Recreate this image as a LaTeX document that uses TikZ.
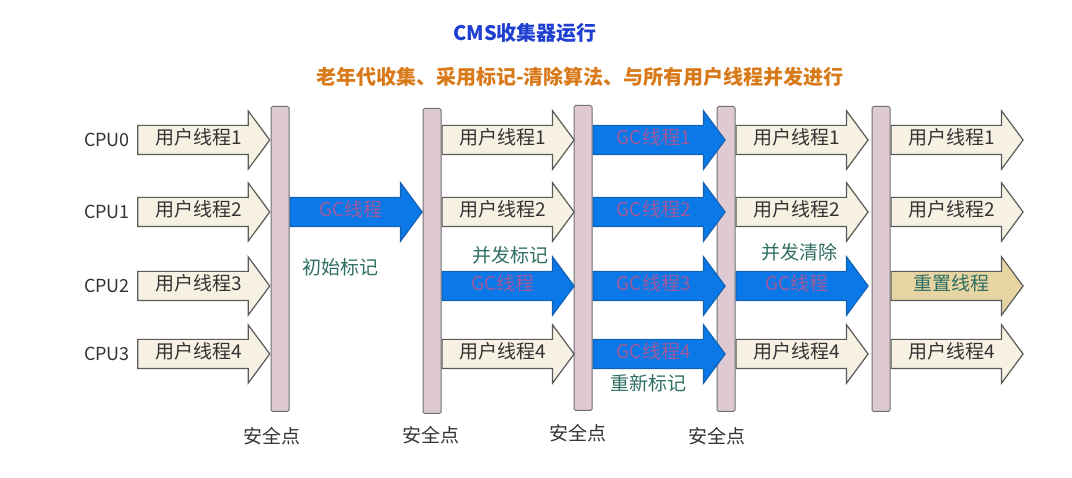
\documentclass[tikz,border=0pt]{standalone}
\usepackage{fontspec}
\setmainfont{Noto Sans CJK SC}
\usetikzlibrary{positioning, shapes.arrows}
\definecolor{userfill}{HTML}{F6F1E2}
\definecolor{arrowdraw}{HTML}{5A5A5A}
\definecolor{barfill}{HTML}{DFC9D3}
\definecolor{bardraw}{HTML}{707070}
\definecolor{gcfill}{HTML}{0A78E6}
\definecolor{gcdraw}{HTML}{1462B4}
\definecolor{gctext}{HTML}{A05A9E}
\definecolor{resetfill}{HTML}{E6D4A2}
\definecolor{labelteal}{HTML}{2F6E62}
\definecolor{textgray}{HTML}{333333}
\definecolor{titleblue}{HTML}{1E3FD0}
\definecolor{suborange}{HTML}{D97A1A}
\tikzset{bar node/.style={rectangle,draw=bardraw,fill=barfill,line width=1pt,rounded corners=1.5pt,minimum width=18pt,minimum height=305pt,inner sep=0pt},
  thread node/.style={single arrow,draw=arrowdraw,line width=1.2pt,minimum height=132pt,minimum width=57pt,single arrow head extend=14.5pt,single arrow tip angle=107,inner xsep=2pt,inner ysep=5pt,text height=14pt,text depth=4pt,font=\fontsize{19}{19}\selectfont},
  user node/.style={thread node,fill=userfill,text=textgray},
  gc node/.style={thread node,fill=gcfill,draw=gcdraw,text=gctext},
  reset node/.style={thread node,fill=resetfill,text=labelteal},
  cpu node/.style={font=\fontsize{18}{18}\selectfont,text=textgray},
  phase node/.style={font=\fontsize{19}{19}\selectfont,text=labelteal},
  safe node/.style={font=\fontsize{19}{19}\selectfont,text=textgray},}
\begin{document}
\begin{tikzpicture}[x=1pt, y=-1pt]
   \useasboundingbox (0,0) rectangle (1072,478);
   % titles
   \node[font=\fontsize{20}{20}\selectfont\bfseries, text=titleblue] (title) at (525,33) {CMS收集器运行};
   \node[font=\fontsize{20}{20}\selectfont\bfseries, text=suborange] (sub) at (580,77) {老年代收集、采用标记-清除算法、与所有用户线程并发进行};
   % cpus
   \node[cpu node] (cpu0) at (107,140) {CPU0};
   \node[cpu node] (cpu1) at (107,212) {CPU1};
   \node[cpu node] (cpu2) at (107,286) {CPU2};
   \node[cpu node] (cpu3) at (107,354) {CPU3};
   % safe points
   \node[bar node] (b1) at (280,259) {};
   \node[bar node] (b2) at (432,261) {};
   \node[bar node] (b3) at (583,258) {};
   \node[bar node] (b4) at (726,259) {};
   \node[bar node] (b5) at (881,259) {};
   \node[safe node] (s1) at (272,436) {安全点};
   \node[safe node] (s2) at (431,435) {安全点};
   \node[safe node] (s3) at (578,433) {安全点};
   \node[safe node] (s4) at (717,436) {安全点};
   % before first safe point
   \node[user node, anchor=tip] (u00) at (b1.west |- cpu0) {用户线程1};
   \node[user node, anchor=tip] (u01) at (b1.west |- cpu1) {用户线程2};
   \node[user node, anchor=tip] (u02) at (b1.west |- cpu2) {用户线程3};
   \node[user node, anchor=tip] (u03) at (b1.west |- cpu3) {用户线程4};
   % initial mark
   \node[gc node, anchor=tail] (g11) at (b1.east |- cpu1) {GC线程};
   \node[phase node] (p1) at (340,267) {初始标记};
   % concurrent mark
   \node[user node, anchor=tail] (u20) at (b2.east |- cpu0) {用户线程1};
   \node[user node, anchor=tail] (u21) at (b2.east |- cpu1) {用户线程2};
   \node[gc node, anchor=tail] (g22) at (b2.east |- cpu2) {GC线程};
   \node[user node, anchor=tail] (u23) at (b2.east |- cpu3) {用户线程4};
   \node[phase node] (p2) at (510,255) {并发标记};
   % remark
   \node[gc node, anchor=tail] (g30) at (b3.east |- cpu0) {GC线程1};
   \node[gc node, anchor=tail] (g31) at (b3.east |- cpu1) {GC线程2};
   \node[gc node, anchor=tail] (g32) at (b3.east |- cpu2) {GC线程3};
   \node[gc node, anchor=tail] (g33) at (b3.east |- cpu3) {GC线程4};
   \node[phase node] (p3) at (648,383) {重新标记};
   % concurrent sweep
   \node[user node, anchor=tail] (u40) at (b4.east |- cpu0) {用户线程1};
   \node[user node, anchor=tail] (u41) at (b4.east |- cpu1) {用户线程2};
   \node[gc node, anchor=tail] (g42) at (b4.east |- cpu2) {GC线程};
   \node[user node, anchor=tail] (u43) at (b4.east |- cpu3) {用户线程4};
   \node[phase node] (p4) at (799,252) {并发清除};
   % reset
   \node[user node, anchor=tail] (u50) at (b5.east |- cpu0) {用户线程1};
   \node[user node, anchor=tail] (u51) at (b5.east |- cpu1) {用户线程2};
   \node[reset node, anchor=tail] (r52) at (b5.east |- cpu2) {重置线程};
   \node[user node, anchor=tail] (u53) at (b5.east |- cpu3) {用户线程4};
\end{tikzpicture}
\end{document}
